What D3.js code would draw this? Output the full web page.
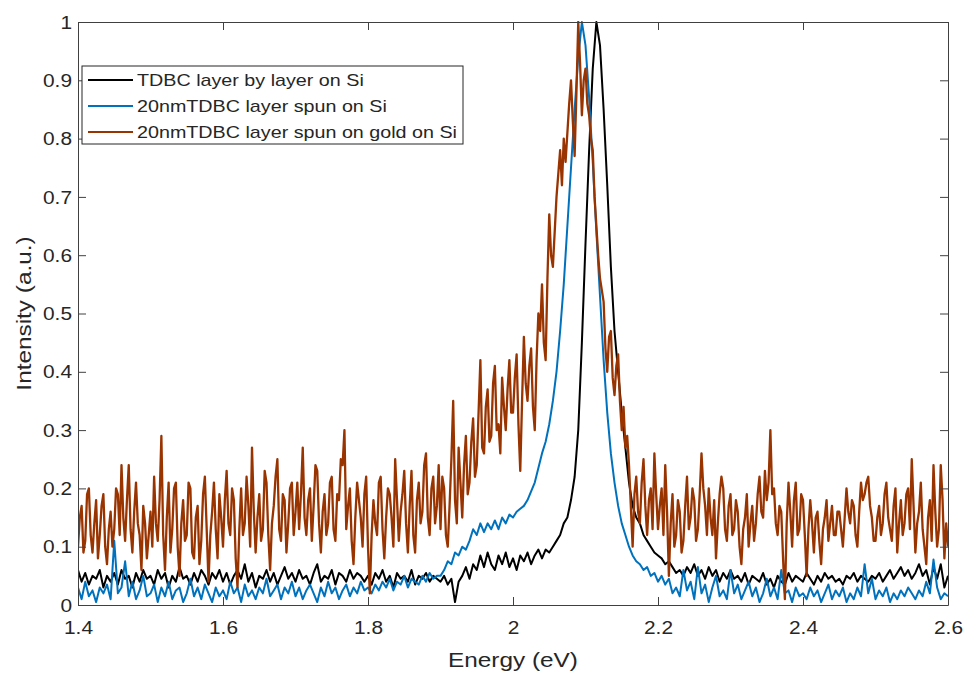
<!DOCTYPE html>
<html>
<head>
<meta charset="utf-8">
<script src="https://cdn.jsdelivr.net/npm/d3@7/dist/d3.min.js"></script>
<style>
  body { margin: 0; background: #fff; }
  text { font-family: "Liberation Sans", Arial, Helvetica, sans-serif; fill: #262626; }
</style>
</head>
<body>
<div class="container"></div>
<script>
// energy grid of the spectra (eV)
const energyStart = 1.4;
const seriesSteps = [0.005, 0.005, 0.0025];

const xTicks = [1.4, 1.6, 1.8, 2, 2.2, 2.4, 2.6];
const yTicks = [0, 0.1, 0.2, 0.3, 0.4, 0.5, 0.6, 0.7, 0.8, 0.9, 1];

const seriesNames = [
  "TDBC layer by layer on Si",
  "20nmTDBC layer spun on Si",
  "20nmTDBC layer spun on gold on Si"
];
const seriesColors = ["#000000", "#0072BD", "#993300"];

// each row = 0.1 eV (20 samples)
const layerByLayer = [
  0.06, 0.04, 0.055, 0.035, 0.05, 0.045, 0.06, 0.03, 0.05, 0.04, 0.055, 0.035, 0.06, 0.045, 0.05, 0.03, 0.055, 0.04, 0.06, 0.045,
  0.05, 0.035, 0.06, 0.045, 0.055, 0.03, 0.05, 0.04, 0.065, 0.045, 0.05, 0.035, 0.055, 0.04, 0.06, 0.05, 0.035, 0.055, 0.045, 0.06,
  0.04, 0.055, 0.035, 0.05, 0.06, 0.045, 0.07, 0.04, 0.055, 0.03, 0.05, 0.045, 0.06, 0.04, 0.055, 0.035, 0.05, 0.065, 0.045, 0.055,
  0.04, 0.06, 0.045, 0.05, 0.035, 0.055, 0.07, 0.04, 0.05, 0.045, 0.06, 0.035, 0.055, 0.05, 0.04, 0.06, 0.045, 0.055, 0.05, 0.04,
  0.05, 0.035, 0.055, 0.045, 0.06, 0.04, 0.05, 0.03, 0.055, 0.045, 0.05, 0.04, 0.06, 0.035, 0.05, 0.045, 0.055, 0.04, 0.05, 0.045,
  0.04, 0.05, 0.035, 0.045, 0.005, 0.04, 0.05, 0.065, 0.045, 0.07, 0.06, 0.085, 0.065, 0.09, 0.07, 0.06, 0.085, 0.07, 0.09, 0.065,
  0.08, 0.06, 0.085, 0.075, 0.09, 0.07, 0.085, 0.095, 0.08, 0.095, 0.09, 0.10, 0.11, 0.12, 0.14, 0.15, 0.18, 0.22, 0.30, 0.45,
  0.62, 0.78, 0.92, 1.00, 0.96, 0.85, 0.72, 0.58, 0.47, 0.40, 0.33, 0.27, 0.21, 0.17, 0.15, 0.14, 0.12, 0.11, 0.10, 0.09,
  0.085, 0.08, 0.07, 0.075, 0.065, 0.055, 0.06, 0.05, 0.065, 0.055, 0.07, 0.05, 0.06, 0.045, 0.065, 0.05, 0.06, 0.04, 0.055, 0.045,
  0.06, 0.045, 0.05, 0.04, 0.055, 0.035, 0.05, 0.045, 0.04, 0.055, 0.035, 0.045, 0.03, 0.05, 0.04, 0.035, 0.055, 0.04, 0.05, 0.045,
  0.04, 0.055, 0.045, 0.035, 0.05, 0.04, 0.055, 0.045, 0.05, 0.04, 0.045, 0.035, 0.05, 0.045, 0.055, 0.04, 0.05, 0.045, 0.04, 0.05,
  0.045, 0.055, 0.04, 0.05, 0.06, 0.045, 0.055, 0.065, 0.05, 0.06, 0.045, 0.055, 0.07, 0.05, 0.06, 0.035, 0.065, 0.045, 0.07, 0.03,
  0.05
];

const spunOnSi = [
  0.03, 0.01, 0.04, 0.015, 0.025, 0.005, 0.03, 0.02, 0.035, 0.01, 0.11, 0.02, 0.03, 0.075, 0.015, 0.04, 0.01, 0.025, 0.05, 0.015,
  0.02, 0.035, 0.005, 0.03, 0.015, 0.04, 0.01, 0.025, 0.03, 0.005, 0.02, 0.045, 0.015, 0.03, 0.01, 0.035, 0.02, 0.005, 0.03, 0.015,
  0.025, 0.01, 0.04, 0.02, 0.03, 0.005, 0.035, 0.015, 0.025, 0.01, 0.03, 0.02, 0.045, 0.015, 0.025, 0.035, 0.01, 0.03, 0.02, 0.04,
  0.015, 0.03, 0.01, 0.025, 0.035, 0.02, 0.005, 0.03, 0.015, 0.04, 0.02, 0.03, 0.01, 0.025, 0.035, 0.015, 0.03, 0.02, 0.04, 0.025,
  0.03, 0.02, 0.035, 0.025, 0.04, 0.03, 0.045, 0.025, 0.04, 0.035, 0.05, 0.03, 0.045, 0.04, 0.035, 0.05, 0.04, 0.055, 0.045, 0.05,
  0.05, 0.06, 0.075, 0.07, 0.09, 0.085, 0.10, 0.095, 0.11, 0.13, 0.12, 0.14, 0.125, 0.14, 0.13, 0.145, 0.13, 0.15, 0.14, 0.155,
  0.15, 0.16, 0.165, 0.17, 0.18, 0.195, 0.21, 0.235, 0.26, 0.28, 0.31, 0.35, 0.40, 0.47, 0.55, 0.65, 0.75, 0.85, 0.94, 1.00,
  0.96, 0.87, 0.76, 0.64, 0.53, 0.42, 0.33, 0.26, 0.21, 0.17, 0.14, 0.12, 0.10, 0.085, 0.075, 0.07, 0.06, 0.065, 0.05, 0.055,
  0.04, 0.05, 0.035, 0.045, 0.02, 0.03, 0.015, 0.06, 0.025, 0.04, 0.01, 0.065, 0.02, 0.035, 0.005, 0.03, 0.05, 0.015, 0.025, 0.01,
  0.06, 0.02, 0.035, 0.01, 0.025, 0.04, 0.015, 0.03, 0.005, 0.02, 0.045, 0.015, 0.03, 0.01, 0.06, 0.02, 0.025, 0.005, 0.03, 0.015,
  0.02, 0.01, 0.03, 0.015, 0.025, 0.005, 0.02, 0.035, 0.01, 0.025, 0.015, 0.03, 0.005, 0.02, 0.01, 0.03, 0.015, 0.07, 0.02, 0.045,
  0.01, 0.025, 0.015, 0.03, 0.005, 0.02, 0.01, 0.025, 0.015, 0.03, 0.02, 0.01, 0.025, 0.015, 0.04, 0.02, 0.078, 0.03, 0.01, 0.02,
  0.015
];

// each row = 0.1 eV (40 samples)
const spunOnGold = [
  0.10, 0.15, 0.17, 0.09, 0.11, 0.19, 0.20, 0.12, 0.09, 0.14, 0.18, 0.08, 0.12, 0.17, 0.19, 0.10, 0.07, 0.13, 0.16, 0.10,
  0.13, 0.20, 0.19, 0.12, 0.24, 0.15, 0.11, 0.18, 0.24, 0.13, 0.09, 0.16, 0.21, 0.14, 0.12, 0.06, 0.17, 0.14, 0.08, 0.12,
  0.16, 0.10, 0.22, 0.14, 0.11, 0.18, 0.29, 0.12, 0.06, 0.15, 0.21, 0.09, 0.13, 0.20, 0.21, 0.10, 0.05, 0.14, 0.18, 0.11,
  0.12, 0.21, 0.20, 0.09, 0.08, 0.15, 0.17, 0.07, 0.11, 0.19, 0.22, 0.13, 0.04, 0.12, 0.16, 0.21, 0.13, 0.08, 0.19, 0.15,
  0.10, 0.18, 0.23, 0.14, 0.12, 0.20, 0.18, 0.08, 0.03, 0.13, 0.20, 0.12, 0.14, 0.22, 0.17, 0.10, 0.27, 0.16, 0.09, 0.15,
  0.19, 0.11, 0.13, 0.23, 0.21, 0.12, 0.06, 0.14, 0.17, 0.22, 0.25, 0.13, 0.11, 0.19, 0.18, 0.09, 0.14, 0.20, 0.21, 0.12,
  0.16, 0.21, 0.13, 0.19, 0.27, 0.15, 0.12, 0.18, 0.20, 0.11, 0.17, 0.24, 0.23, 0.14, 0.09, 0.16, 0.19, 0.12, 0.14, 0.21,
  0.22, 0.13, 0.11, 0.19, 0.18, 0.25, 0.24, 0.30, 0.13, 0.17, 0.20, 0.11, 0.07, 0.15, 0.21, 0.18, 0.15, 0.10, 0.19, 0.22,
  0.10, 0.02, 0.12, 0.18, 0.14, 0.12, 0.21, 0.22, 0.13, 0.08, 0.15, 0.20, 0.19, 0.15, 0.10, 0.25, 0.18, 0.11, 0.16, 0.19,
  0.23, 0.14, 0.09, 0.17, 0.23, 0.12, 0.09, 0.18, 0.21, 0.14, 0.16, 0.24, 0.26, 0.15, 0.12, 0.20, 0.22, 0.14, 0.17, 0.24,
  0.13, 0.22, 0.20, 0.12, 0.10, 0.17, 0.25, 0.35, 0.18, 0.14, 0.27, 0.21, 0.15, 0.24, 0.29, 0.19, 0.21, 0.28, 0.32, 0.22,
  0.24, 0.33, 0.42, 0.27, 0.26, 0.34, 0.37, 0.28, 0.29, 0.38, 0.41, 0.30, 0.31, 0.26, 0.39, 0.34, 0.30, 0.37, 0.42, 0.33,
  0.33, 0.39, 0.43, 0.31, 0.23, 0.35, 0.46, 0.38, 0.35, 0.41, 0.44, 0.34, 0.30, 0.42, 0.50, 0.47, 0.55, 0.45, 0.42, 0.56,
  0.67, 0.60, 0.58, 0.64, 0.70, 0.74, 0.78, 0.72, 0.80, 0.76, 0.81, 0.86, 0.90, 0.83, 0.77, 0.88, 1.00, 0.93, 0.84, 0.90,
  0.92, 0.86, 0.84, 0.80, 0.78, 0.70, 0.65, 0.60, 0.56, 0.54, 0.52, 0.44, 0.40, 0.46, 0.47, 0.39, 0.36, 0.41, 0.43, 0.35,
  0.30, 0.34, 0.27, 0.29, 0.24, 0.17, 0.10, 0.19, 0.22, 0.16, 0.14, 0.21, 0.25, 0.17, 0.12, 0.18, 0.20, 0.13, 0.26, 0.19,
  0.13, 0.17, 0.20, 0.12, 0.24, 0.16, 0.05, 0.14, 0.19, 0.10, 0.12, 0.18, 0.16, 0.09, 0.11, 0.17, 0.22, 0.13, 0.15, 0.20,
  0.18, 0.11, 0.13, 0.19, 0.26, 0.20, 0.17, 0.12, 0.20, 0.15, 0.12, 0.18, 0.08, 0.14, 0.19, 0.22, 0.20, 0.13, 0.11, 0.17,
  0.19, 0.12, 0.13, 0.18, 0.16, 0.10, 0.07, 0.13, 0.15, 0.19, 0.10, 0.14, 0.17, 0.11, 0.14, 0.19, 0.22, 0.16, 0.15, 0.23,
  0.18, 0.21, 0.30, 0.19, 0.20, 0.14, 0.12, 0.17, 0.16, 0.08, 0.01, 0.14, 0.21, 0.16, 0.10, 0.18, 0.21, 0.12, 0.13, 0.19,
  0.18, 0.12, 0.05, 0.13, 0.18, 0.14, 0.09, 0.15, 0.16, 0.11, 0.07, 0.13, 0.15, 0.18, 0.11, 0.14, 0.17, 0.12, 0.12, 0.16,
  0.16, 0.13, 0.10, 0.15, 0.20, 0.16, 0.14, 0.18, 0.17, 0.12, 0.10, 0.16, 0.21, 0.18, 0.19, 0.21, 0.22, 0.17, 0.15, 0.11,
  0.11, 0.15, 0.17, 0.12, 0.14, 0.19, 0.21, 0.15, 0.13, 0.11, 0.17, 0.20, 0.09, 0.14, 0.18, 0.12, 0.14, 0.19, 0.20, 0.13,
  0.25, 0.17, 0.09, 0.14, 0.16, 0.21, 0.13, 0.10, 0.07, 0.15, 0.18, 0.11, 0.24, 0.16, 0.10, 0.13, 0.24, 0.18, 0.08, 0.14,
  0.10
];

const chartProps = {
  width: 966,
  height: 673,
  left: 78,
  right: 948,
  top: 22,
  bottom: 605,
  stretch: 1.16 // the original font renders wider than it is tall
};

function drawChart() {
  const { width, height, left, right, top, bottom, stretch } = chartProps;
  const allSeries = [layerByLayer, spunOnSi, spunOnGold];

  const svg = d3
    .select(".container")
    .append("svg")
    .attr("width", width)
    .attr("height", height);

  const xScale = d3.scaleLinear().domain([1.4, 2.6]).range([left, right]);
  const yScale = d3.scaleLinear().domain([0, 1]).range([bottom, top]);

  svg
    .append("clipPath")
    .attr("id", "plot-clip")
    .append("rect")
    .attr("x", left)
    .attr("y", top - 1)
    .attr("width", right - left)
    .attr("height", bottom - top + 2);

  const lineFor = step =>
    d3
      .line()
      .x((d, i) => xScale(energyStart + i * step))
      .y(d => yScale(d));

  svg
    .append("g")
    .attr("clip-path", "url(#plot-clip)")
    .selectAll("path")
    .data(allSeries)
    .enter()
    .append("path")
    .attr("d", (d, i) => lineFor(seriesSteps[i])(d))
    .attr("fill", "none")
    .attr("stroke", (d, i) => seriesColors[i])
    .attr("stroke-width", (d, i) => (i === 2 ? 2.3 : 2))
    .attr("stroke-linejoin", "round");

  // axes box, ticks pointing inward on all four sides
  const fmt = d => String(+d.toFixed(1));
  const xAxis = svg
    .append("g")
    .attr("transform", `translate(0, ${bottom})`)
    .call(d3.axisBottom(xScale).tickValues(xTicks).tickSizeInner(-8).tickSizeOuter(0).tickFormat(fmt));
  svg
    .append("g")
    .attr("transform", `translate(0, ${top})`)
    .call(d3.axisTop(xScale).tickValues(xTicks).tickSizeInner(-8).tickSizeOuter(0).tickFormat(""));
  const yAxis = svg
    .append("g")
    .attr("transform", `translate(${left}, 0)`)
    .call(d3.axisLeft(yScale).tickValues(yTicks).tickSizeInner(-8).tickSizeOuter(0).tickFormat(fmt));
  svg
    .append("g")
    .attr("transform", `translate(${right}, 0)`)
    .call(d3.axisRight(yScale).tickValues(yTicks).tickSizeInner(-8).tickSizeOuter(0).tickFormat(""));

  svg.selectAll(".domain, .tick line").attr("stroke", "#404040").attr("stroke-width", 1);

  xAxis
    .selectAll("text")
    .attr("y", 16)
    .attr("dy", "0.71em")
    .attr("font-size", 18)
    .attr("transform", `scale(${stretch},1)`);
  yAxis
    .selectAll("text")
    .attr("x", -6 / stretch)
    .attr("dy", "0.34em")
    .attr("font-size", 18)
    .attr("transform", `scale(${stretch},1)`);

  // axis titles
  svg
    .append("text")
    .attr("transform", `translate(${(left + right) / 2}, 667) scale(${stretch},1)`)
    .attr("text-anchor", "middle")
    .attr("font-size", 21)
    .text("Energy (eV)");
  svg
    .append("text")
    .attr("transform", `translate(31, ${(top + bottom) / 2}) rotate(-90) scale(${stretch},1)`)
    .attr("text-anchor", "middle")
    .attr("font-size", 21)
    .text("Intensity (a.u.)");

  // legend
  const legend = svg.append("g").attr("id", "legend");
  legend
    .append("rect")
    .attr("x", 82)
    .attr("y", 66)
    .attr("width", 381)
    .attr("height", 78)
    .attr("fill", "#fff")
    .attr("stroke", "#262626")
    .attr("stroke-width", 1);
  const rows = legend
    .selectAll(".legend-row")
    .data(seriesNames)
    .enter()
    .append("g")
    .attr("class", "legend-row")
    .attr("transform", (d, i) => `translate(88, ${80 + i * 26})`);
  rows
    .append("line")
    .attr("x1", 0)
    .attr("x2", 45)
    .attr("stroke", (d, i) => seriesColors[i])
    .attr("stroke-width", 2);
  rows
    .append("text")
    .attr("transform", `translate(49, 0) scale(${stretch},1)`)
    .attr("dy", "0.35em")
    .attr("font-size", 17)
    .text(d => d);
}

document.addEventListener("DOMContentLoaded", drawChart);
</script>
</body>
</html>
